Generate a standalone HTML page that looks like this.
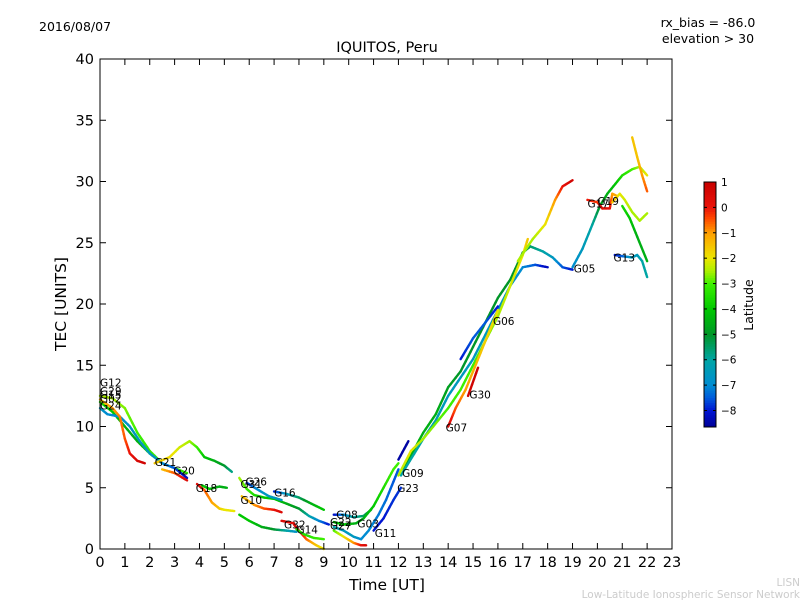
<!DOCTYPE html>
<html><head><meta charset="utf-8"><style>
body{margin:0;background:#fff;}
svg{display:block;font-family:"DejaVu Sans","Liberation Sans",sans-serif;}
</style></head><body>
<svg id="c" width="800" height="600">
<text x="39" y="31" font-size="12.5">2016/08/07</text>
<text x="387" y="52" font-size="14.5" text-anchor="middle">IQUITOS, Peru</text>
<text x="708" y="27" font-size="12.5" text-anchor="middle">rx_bias = -86.0</text>
<text x="708" y="43" font-size="12.5" text-anchor="middle">elevation &gt; 30</text>
<text x="387" y="590" font-size="15.5" text-anchor="middle">Time [UT]</text>
<text x="66" y="304" font-size="15.5" text-anchor="middle" transform="rotate(-90 66 304)">TEC [UNITS]</text>
<text x="800" y="586" font-size="10.5" fill="#ccc" text-anchor="end">LISN</text>
<text x="800" y="598" font-size="10.5" fill="#ccc" text-anchor="end">Low-Latitude Ionospheric Sensor Network</text>
<g id="plot"></g>
<g id="cbar"></g>
</svg>
<script>
const xTicks=[0,1,2,3,4,5,6,7,8,9,10,11,12,13,14,15,16,17,18,19,20,21,22,23];
const yTicks=[0,5,10,15,20,25,30,35,40];
const cbTicks=[1,0,-1,-2,-3,-4,-5,-6,-7,-8];
const latMin=-8.65, latMax=1.0;
const trT1=[0,0.5,1,1.5,2,2.5,3,3.5], trV1=[12,11.2,10,8.8,7.8,7,6.6,6.2], trL1=[-3.5,-4,-4.5,-4.5,-4,-4,-3.5,-3];
const trT2=[0,0.5,1,1.5,2,2.5], trV2=[12.5,12.3,11.5,9.5,8,7], trL2=[-2.5,-2.5,-2.7,-3,-3.2,-3];
const trT3=[0,0.3,0.8,1.2,1.6,2,2.5,3,3.5], trV3=[11.5,11,10.8,10,8.8,7.8,7,6.6,5.8], trL3=[-6.5,-7,-7,-6.8,-6.5,-6.5,-7,-7.5,-8.3];
const trT4=[0,0.5,0.8,1.0,1.2,1.5,1.8], trV4=[12.2,11.5,10.8,9,7.8,7.2,7.0], trL4=[-1.5,-1,-0.8,-0.5,0,0.5,0.8];
const trT5=[2.2,2.8,3.2,3.6,3.9,4.2,4.6,5,5.3], trV5=[7.0,7.5,8.3,8.8,8.3,7.5,7.2,6.8,6.3], trL5=[-1.5,-1.8,-2.2,-2.5,-3,-4,-4.5,-5,-5.8];
const trT6=[2.5,3,3.5], trV6=[6.5,6.2,5.6], trL6=[-1.5,-0.5,0.5];
const trT7=[3.9,4.2,4.5,4.8,5.0,5.4], trV7=[5.3,4.8,3.8,3.3,3.2,3.1], trL7=[0.5,-0.5,-1,-1.5,-2,-2];
const trT8=[4.1,4.4,4.8,5.1], trV8=[5.2,4.9,5.1,5.0], trL8=[-4,-4,-4.5,-4.5];
const trT9=[5.6,5.9,6.2,6.6,7,7.5,8,8.4,8.8,9.2], trV9=[5.8,4.9,4.4,4.2,4.1,3.7,3.3,2.7,2.3,2.0], trL9=[-2.5,-3,-3.5,-4,-4,-4.5,-5,-6,-7,-8];
const trT10=[5.9,6.3,6.8,7.3], trV10=[5.4,4.9,4.3,4.0], trL10=[-8,-7,-6.5,-6.5];
const trT11=[7.0,7.5,8,8.5,9.0], trV11=[4.7,4.5,4.2,3.7,3.2], trL11=[-8,-6.5,-5.5,-4.5,-4];
const trT12=[5.7,6.2,6.6,7,7.3], trV12=[4.3,3.6,3.3,3.2,3.0], trL12=[-1.5,-1,-0.5,0,0.5];
const trT13=[5.6,6,6.5,7,7.5,7.9], trV13=[2.8,2.3,1.8,1.6,1.5,1.4], trL13=[-4,-4,-4.5,-5,-6,-6.8];
const trT14=[7.3,7.8], trV14=[2.3,2.1], trL14=[0.5,0.3];
const trT15=[7.8,8.0,8.3,8.7,9.0], trV15=[2.0,1.5,0.8,0.3,0.0], trL15=[0.5,0.5,-0.5,-1.5,-2];
const trT16=[7.9,8.2,8.6,9.0], trV16=[1.6,1.2,0.9,0.8], trL16=[-3.5,-3.5,-3.2,-3];
const trT17=[9.4,9.8,10.2,10.6,10.9], trV17=[2.8,2.8,2.6,2.7,3.2], trL17=[-8.3,-7,-6,-5.5,-5];
const trT18=[9.4,9.8,10.2,10.5,10.7], trV18=[1.5,1.0,0.5,0.3,0.3], trL18=[-3,-2,-1,0,0.5];
const trT19=[9.4,9.8,10.3,10.6,11,11.4,11.8,12], trV19=[2.2,2.0,2.1,2.5,3.5,5,6.5,7], trL19=[-4,-4,-4.5,-4.5,-4,-3.5,-3,-3];
const trT20=[9.4,9.8,10.2,10.5,10.8,11.2,11.5,11.8,12], trV20=[1.8,1.5,1.0,0.8,1.5,2.8,4,5.5,6.5], trL20=[-6,-6.5,-6.5,-7,-7,-7.2,-7.3,-7.5,-7.5];
const trT21=[11.0,11.4,11.8,12.1], trV21=[1.5,2.5,4.0,5.0], trL21=[-8,-8,-7.8,-7.8];
const trT22=[12.0,12.4], trV22=[7.3,8.8], trL22=[-8.5,-8.5];
const trT23=[12.2,13,13.5,14,14.5,15,15.5,16,16.5,17,17.3,17.8,18.2,18.6,19], trV23=[6.5,9.5,11,13.2,14.5,16.5,18.5,20.5,22.0,24.2,24.7,24.3,23.8,23.0,22.8], trL23=[-4.5,-4.5,-4.5,-4.8,-5,-5,-5,-5,-5,-5,-5.5,-6,-6.5,-7.5,-8];
const trT24=[12.1,13,13.5,14,14.5,15,15.5,16,16.5,17,17.5,18], trV24=[6,9,10.5,12.5,14,15.5,17.5,19.5,21.5,23,23.2,23], trL24=[-6,-6,-6.2,-6.5,-6.5,-6.5,-6.5,-6.5,-6.8,-7,-7.5,-8.3];
const trT25=[14.5,15,15.5,16], trV25=[15.5,17.2,18.5,19.8], trL25=[-8,-7.5,-7.5,-8];
const trT26=[12,12.5,13,14,14.5,15,15.5,16,16.5,17,17.2], trV26=[6,8,9,11.5,13,15,17,19,21.5,24,25.3], trL26=[-2.5,-2,-2.5,-3,-3,-3,-2.8,-2.5,-2.2,-2,-1.5];
const trT27=[14,14.3,14.7,15,15.3,15.7,16], trV27=[10,11.5,13,14.5,16,18,19.5], trL27=[0.5,-0.5,-1,-1.2,-1.5,-1.8,-2];
const trT28=[14.8,15.2], trV28=[12.5,14.8], trL28=[0.8,0.8];
const trT29=[16.8,17.4,17.9,18.3,18.6,19.0], trV29=[23.5,25.3,26.5,28.5,29.6,30.1], trL29=[-2.5,-2.5,-2,-1,0,0.8];
const trT30=[19,19.4,19.8,20.1,20.4,20.8,21,21.4,21.7,22], trV30=[23,24.5,26.5,28,29,30,30.5,31,31.2,30.5], trL30=[-7,-6.5,-6,-5,-4.5,-4,-3.5,-3,-2.5,-2];
const trT31=[21.4,21.6,21.8,22.0], trV31=[33.6,32,30.5,29.2], trL31=[-1.5,-1.5,-1,-0.5];
const trT32=[19.6,20,20.2,20.5,20.6,20.8], trV32=[28.5,28.3,27.8,27.8,29,28.8], trL32=[0,-0.3,0.3,0.3,-1,-1.2];
const trT33=[20.6,20.9,21.1,21.4,21.7,22], trV33=[28.3,29,28.5,27.5,26.8,27.4], trL33=[-1.5,-2,-2.2,-2.5,-2.5,-2.5];
const trT34=[21,21.3,21.6,22], trV34=[28,27,25.5,23.5], trL34=[-3.5,-4,-4.5,-4.5];
const trT35=[20.7,21,21.4,21.6,21.8,22], trV35=[24,23.9,23.8,24,23.5,22.2], trL35=[-8,-7.5,-6.5,-6.5,-6,-6];
const tracks=[[trT1,trV1,trL1],[trT2,trV2,trL2],[trT3,trV3,trL3],[trT4,trV4,trL4],[trT5,trV5,trL5],[trT6,trV6,trL6],[trT7,trV7,trL7],[trT8,trV8,trL8],[trT9,trV9,trL9],[trT10,trV10,trL10],[trT11,trV11,trL11],[trT12,trV12,trL12],[trT13,trV13,trL13],[trT14,trV14,trL14],[trT15,trV15,trL15],[trT16,trV16,trL16],[trT17,trV17,trL17],[trT18,trV18,trL18],[trT19,trV19,trL19],[trT20,trV20,trL20],[trT21,trV21,trL21],[trT22,trV22,trL22],[trT23,trV23,trL23],[trT24,trV24,trL24],[trT25,trV25,trL25],[trT26,trV26,trL26],[trT27,trV27,trL27],[trT28,trV28,trL28],[trT29,trV29,trL29],[trT30,trV30,trL30],[trT31,trV31,trL31],[trT32,trV32,trL32],[trT33,trV33,trL33],[trT34,trV34,trL34],[trT35,trV35,trL35]];
const labelNames=["G12","G29","G15","G02","G24","G21","G20","G18","G31","G26","G16","G10","G32","G14","G08","G22","G27","G03","G11","G09","G23","G07","G30","G06","G05","G13","G17","G19"];
const labelT=[0,0,0,0,0,2.2,2.95,3.85,5.65,5.85,7,5.65,7.4,7.9,9.5,9.25,9.25,10.35,11.05,12.15,11.95,13.9,14.85,15.8,19.05,20.65,19.6,20.0];
const labelV=[13.6,12.9,12.6,12.3,11.7,7.1,6.4,5.0,5.3,5.5,4.6,4.0,2.0,1.6,2.8,2.2,1.9,2.1,1.3,6.2,5.0,9.9,12.6,18.6,22.9,23.8,28.2,28.4];
const NS="http://www.w3.org/2000/svg";
const X0=100,X1=672,Y0=549,Y1=59;
const xs=t=>X0+t*(X1-X0)/23, ys=v=>Y0-v*(Y0-Y1)/40;
const stops=[[-8.65,[0,0,150]],[-8,[0,20,210]],[-7.5,[0,90,220]],[-7,[0,140,210]],[-6,[0,165,165]],[-5,[0,150,40]],[-4,[0,200,0]],[-3,[60,240,0]],[-2.5,[170,240,0]],[-2,[235,230,0]],[-1,[255,160,0]],[-0.4,[255,70,0]],[0,[235,20,10]],[1,[200,0,0]]];
function latC(l){
  if(l<=stops[0][0])return `rgb(${stops[0][1]})`;
  for(let i=0;i<stops.length-1;i++){const [a,ca]=stops[i],[b,cb]=stops[i+1];
    if(l<=b){const f=(l-a)/(b-a);return `rgb(${ca.map((c,j)=>Math.round(c+(cb[j]-c)*f)).join(',')})`;}}
  return `rgb(${stops[stops.length-1][1]})`;
}
const plot=document.getElementById('plot');
function mk(tag,attrs,parent){const e=document.createElementNS(NS,tag);for(const k in attrs)e.setAttribute(k,attrs[k]);(parent||plot).appendChild(e);return e;}
tracks.forEach((tr,i)=>{
  const g=mk('g',{});
  
  
  const [T,V,L]=tr;
  for(let k=0;k<T.length-1;k++){
    const n=5;
    for(let s=0;s<n;s++){
      const a=s/n,b=(s+1)/n;
      const l=L[k]+(L[k+1]-L[k])*(a+b)/2;
      mk('line',{x1:xs(T[k]+(T[k+1]-T[k])*a),y1:ys(V[k]+(V[k+1]-V[k])*a),x2:xs(T[k]+(T[k+1]-T[k])*b),y2:ys(V[k]+(V[k+1]-V[k])*b),stroke:latC(l),'stroke-width':2.4,'stroke-linecap':'round'},g);
    }
  }
});
labelNames.forEach((n,i)=>{
  const t=mk('text',{x:xs(labelT[i]),y:ys(labelV[i])+4,'font-size':10.5});
  t.textContent=n;
  
  
});
const frame=mk('rect',{x:X0,y:Y1,width:X1-X0,height:Y0-Y1,fill:'none',stroke:'#000','stroke-width':1});


xTicks.forEach(t=>{
  const x=xs(t);
  mk('line',{x1:x,y1:Y0,x2:x,y2:Y0-6,stroke:'#000'});
  mk('line',{x1:x,y1:Y1,x2:x,y2:Y1+6,stroke:'#000'});
  const tx=mk('text',{x:x,y:Y0+18,'font-size':14.5,'text-anchor':'middle'});
  tx.textContent=t;
  
  
});
yTicks.forEach(v=>{
  const y=ys(v);
  mk('line',{x1:X0,y1:y,x2:X0+6,y2:y,stroke:'#000'});
  mk('line',{x1:X1,y1:y,x2:X1-6,y2:y,stroke:'#000'});
  const tx=mk('text',{x:X0-6,y:y+5,'font-size':14.5,'text-anchor':'end'});
  tx.textContent=v;
  
  
});
const cb=document.getElementById('cbar');
const CX=704,CW=12,CT=182,CB=427;
const cy=l=>CB-(l-latMin)/(latMax-latMin)*(CB-CT);
for(let i=0;i<100;i++){
  const l0=latMin+(latMax-latMin)*i/100,l1=latMin+(latMax-latMin)*(i+1)/100;
  mk('rect',{x:CX,y:cy(l1),width:CW,height:cy(l0)-cy(l1)+0.5,fill:latC((l0+l1)/2)},cb);
}
mk('rect',{x:CX,y:CT,width:CW,height:CB-CT,fill:'none',stroke:'#000'},cb);
cbTicks.forEach(l=>{
  const y=cy(l);
  mk('line',{x1:CX,y1:y,x2:CX+3,y2:y,stroke:'#000'},cb);
  mk('line',{x1:CX+CW,y1:y,x2:CX+CW-3,y2:y,stroke:'#000'},cb);
  const tx=mk('text',{x:CX+CW+5,y:y+4,'font-size':10.5},cb);
  tx.textContent=l<0?'\u2212'+(-l):l;
  
  
});
const lt=mk('text',{x:753,y:305,'font-size':12.5,'text-anchor':'middle',transform:'rotate(-90 753 305)'},cb);
lt.textContent='Latitude';


</script>
</body></html>
